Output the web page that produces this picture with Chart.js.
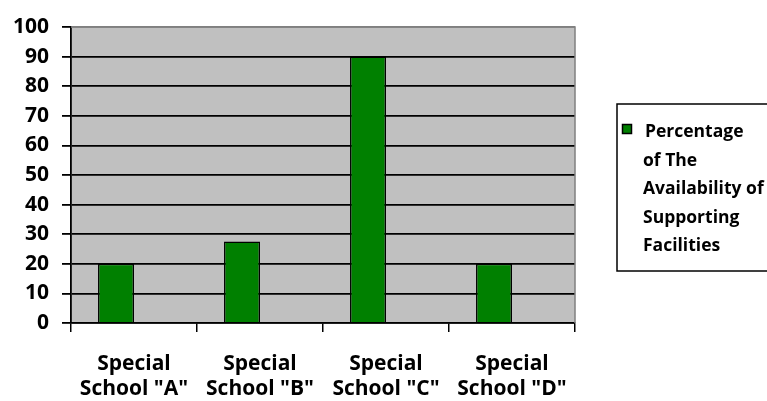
<!DOCTYPE html>
<html>
<head>
<meta charset="utf-8">
<script src="https://cdn.jsdelivr.net/npm/chart.js@4.4.1/dist/chart.umd.min.js"></script>
<style>
  html, body { margin: 0; padding: 0; background: #fff; }
  #wrap { position: relative; width: 767px; height: 401px; }
</style>
</head>
<body>
<div id="wrap"><canvas id="grafica"></canvas></div>
<script>
// datos
const categories = [
    ['Special', 'School "A"'],
    ['Special', 'School "B"'],
    ['Special', 'School "C"'],
    ['Special', 'School "D"']
];
const values = [20, 27.5, 90, 20];
// la grafica original tiene una segunda serie vacia (por eso las barras van a la izquierda)
const emptySeries = [null, null, null, null];
const seriesName = ['Percentage', 'of The', 'Availability of', 'Supporting', 'Facilities'];
const yMin = 0, yMax = 100, yStep = 10;

const FONT = '"Open Sans", sans-serif';

// fondo gris del area de trazado
const fondo = {
    id: 'fondo',
    beforeDraw(chart) {
        const { ctx, chartArea: a } = chart;
        ctx.save();
        ctx.fillStyle = '#c0c0c0';
        ctx.fillRect(a.left, a.top, a.right - a.left, a.bottom - a.top);
        ctx.restore();
    },
    afterDatasetsDraw(chart) {
        const { ctx, chartArea: a } = chart;
        ctx.save();
        ctx.strokeStyle = '#808080';
        ctx.lineWidth = 1.5;
        ctx.beginPath();
        ctx.moveTo(a.left, a.top);
        ctx.lineTo(a.right, a.top);
        ctx.lineTo(a.right, a.bottom);
        ctx.stroke();
        ctx.restore();
    }
};

// leyenda en caja a la derecha, texto en varias lineas
const leyenda = {
    id: 'leyenda',
    afterDraw(chart) {
        const { ctx, chartArea: a } = chart;
        const x = a.right + 42, y = 104;
        ctx.save();
        ctx.strokeStyle = '#000';
        ctx.lineWidth = 1.5;
        ctx.strokeRect(x, y, 200, 167);
        ctx.fillStyle = '#008000';
        ctx.fillRect(x + 5.5, y + 20.5, 9, 9);
        ctx.strokeRect(x + 5.5, y + 20.5, 9, 9);
        ctx.fillStyle = '#000';
        ctx.font = 'bold 17.5px ' + FONT;
        ctx.textBaseline = 'middle';
        seriesName.forEach((t, i) => {
            ctx.fillText(t, x + (i === 0 ? 28 : 26), y + 28.5 + i * 28.5);
        });
        ctx.restore();
    }
};

new Chart(document.getElementById('grafica').getContext('2d'), {
    type: 'bar',
    data: {
        labels: categories,
        datasets: [{
            label: seriesName.join(' '),
            data: values,
            backgroundColor: '#008000',
            borderColor: '#000',
            borderWidth: 1.5,
            categoryPercentage: 0.571,
            barPercentage: 1
        }, {
            label: '',
            data: emptySeries,
            categoryPercentage: 0.571,
            barPercentage: 1
        }]
    },
    options: {
        responsive: true,
        maintainAspectRatio: false,
        animation: false,
        layout: { padding: { top: 27, right: 192, left: 0, bottom: 0 } },
        plugins: {
            legend: { display: false },
            tooltip: { enabled: false }
        },
        scales: {
            x: {
                grid: { drawOnChartArea: false, color: '#000', lineWidth: 1.5, tickLength: 9, offset: true },
                border: { display: true, color: '#000', width: 1.5 },
                ticks: {
                    color: '#000',
                    font: { family: FONT, size: 21, weight: 'bold', lineHeight: 1.2 },
                    padding: 19,
                    maxRotation: 0,
                    autoSkip: false
                },
                afterFit: s => { s.height = 78; }
            },
            y: {
                min: yMin,
                max: yMax,
                grid: {
                    color: c => (c.tick && c.tick.value === yMax) ? '#808080' : '#000',
                    tickColor: '#000',
                    lineWidth: 1.8,
                    tickLength: 9
                },
                border: { display: true, color: '#000', width: 1.8 },
                ticks: {
                    stepSize: yStep,
                    color: '#000',
                    font: { family: FONT, size: 21, weight: 'bold' },
                    padding: 13
                },
                afterFit: s => { s.width = 71; }
            }
        }
    },
    plugins: [fondo, leyenda]
});
</script>
</body>
</html>
